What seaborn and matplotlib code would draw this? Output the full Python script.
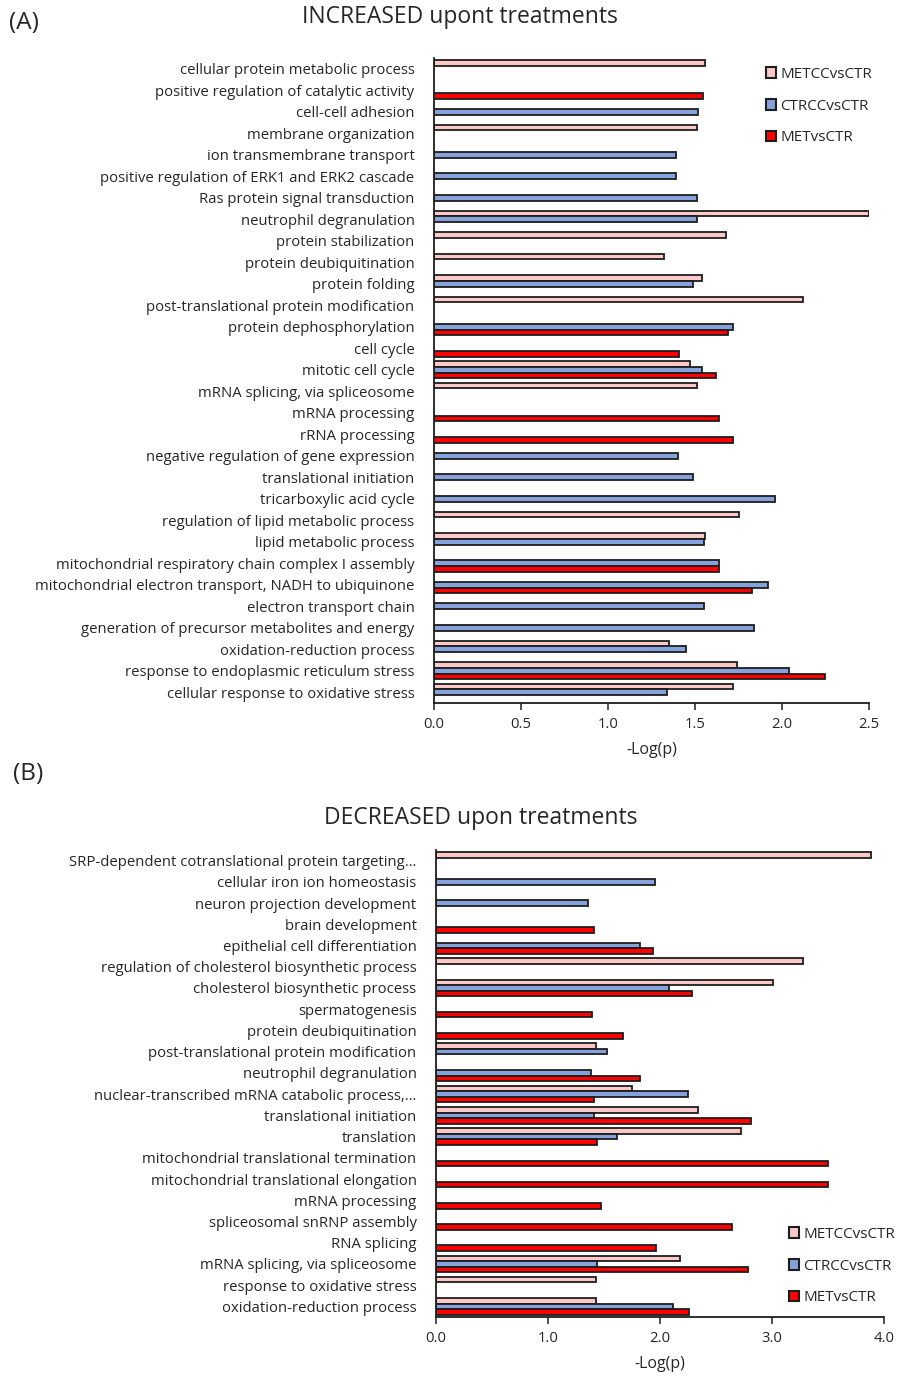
import numpy as np
import pandas as pd
import matplotlib
matplotlib.use("Agg")
import matplotlib.pyplot as plt
from matplotlib.patches import Patch
import seaborn as sns

# ---------------- data ----------------
series_names = ["METCCvsCTR", "CTRCCvsCTR", "METvsCTR"]
series_colors = ["#FCC8C8", "#86A2DA", "#FF0000"]

inc_categories = [
    "cellular protein metabolic process",
    "positive regulation of catalytic activity",
    "cell-cell adhesion",
    "membrane organization",
    "ion transmembrane transport",
    "positive regulation of ERK1 and ERK2 cascade",
    "Ras protein signal transduction",
    "neutrophil degranulation",
    "protein stabilization",
    "protein deubiquitination",
    "protein folding",
    "post-translational protein modification",
    "protein dephosphorylation",
    "cell cycle",
    "mitotic cell cycle",
    "mRNA splicing, via spliceosome",
    "mRNA processing",
    "rRNA processing",
    "negative regulation of gene expression",
    "translational initiation",
    "tricarboxylic acid cycle",
    "regulation of lipid metabolic process",
    "lipid metabolic process",
    "mitochondrial respiratory chain complex I assembly",
    "mitochondrial electron transport, NADH to ubiquinone",
    "electron transport chain",
    "generation of precursor metabolites and energy",
    "oxidation-reduction process",
    "response to endoplasmic reticulum stress",
    "cellular response to oxidative stress",
]
inc_metcc = [1.56, None, None, 1.51, None, None, None, 2.50, 1.68, 1.32,
             1.54, 2.12, None, None, 1.47, 1.51, None, None, None, None,
             None, 1.75, 1.56, None, None, None, None, 1.35, 1.74, 1.72]
inc_ctrcc = [None, None, 1.52, None, 1.39, 1.39, 1.51, 1.51, None, None,
             1.49, None, 1.72, None, 1.54, None, None, None, 1.40, 1.49,
             1.96, None, 1.55, 1.64, 1.92, 1.55, 1.84, 1.45, 2.04, 1.34]
inc_met = [None, 1.545, None, None, None, None, None, None, None, None,
           None, None, 1.69, 1.41, 1.62, None, 1.64, 1.72, None, None,
           None, None, None, 1.64, 1.83, None, None, None, 2.245, None]

dec_categories = [
    "SRP-dependent cotranslational protein targeting…",
    "cellular iron ion homeostasis",
    "neuron projection development",
    "brain development",
    "epithelial cell differentiation",
    "regulation of cholesterol biosynthetic process",
    "cholesterol biosynthetic process",
    "spermatogenesis",
    "protein deubiquitination",
    "post-translational protein modification",
    "neutrophil degranulation",
    "nuclear-transcribed mRNA catabolic process,…",
    "translational initiation",
    "translation",
    "mitochondrial translational termination",
    "mitochondrial translational elongation",
    "mRNA processing",
    "spliceosomal snRNP assembly",
    "RNA splicing",
    "mRNA splicing, via spliceosome",
    "response to oxidative stress",
    "oxidation-reduction process",
]
dec_metcc = [3.88, None, None, None, None, 3.28, 3.01, None, None, 1.43,
             None, 1.75, 2.34, 2.72, None, None, None, None, None, 2.18,
             1.43, 1.43]
dec_ctrcc = [None, 1.955, 1.36, None, 1.82, None, 2.08, None, None, 1.53,
             1.38, 2.25, 1.41, 1.62, None, None, None, None, None, 1.44,
             None, 2.12]
dec_met = [None, None, None, 1.41, 1.935, None, 2.29, 1.39, 1.67, None,
           1.82, 1.41, 2.81, 1.44, 3.50, 3.50, 1.47, 2.64, 1.96, 2.79,
           None, 2.26]

x_ticks_inc = [0.0, 0.5, 1.0, 1.5, 2.0, 2.5]
x_ticks_dec = [0.0, 1.0, 2.0, 3.0, 4.0]


def to_long(categories, metcc, ctrcc, met):
    rows = []
    for name, vals in zip(series_names, [metcc, ctrcc, met]):
        for cat, v in zip(categories, vals):
            if v is not None:
                rows.append({"term": cat, "series": name, "value": v})
    return pd.DataFrame(rows)


# ---------------- style ----------------
sns.set_theme(style="white")
plt.rcParams["font.family"] = ["Open Sans", "DejaVu Sans"]
text_color = "#262626"
edge_color = "#1e1e1e"
palette = dict(zip(series_names, series_colors))

W, H = 898, 1379
fig = plt.figure(figsize=(W / 100, H / 100), dpi=100)


def px_axes(left, top, right, bottom):
    return fig.add_axes([left / W, 1 - bottom / H, (right - left) / W, (bottom - top) / H])


def draw_panel(ax, df, categories, xticks, xmax):
    sns.barplot(data=df, x="value", y="term", hue="series", order=categories,
                hue_order=series_names, palette=palette, orient="h",
                width=0.78, saturation=1, edgecolor=edge_color, linewidth=1.3,
                errorbar=None, legend=False, ax=ax)
    ax.set_xlim(0, xmax)
    ax.set_ylim(len(categories) - 0.5, -0.5)
    ax.set_xticks(xticks)
    ax.set_xticklabels([f"{t:.1f}" for t in xticks])
    ax.set_ylabel("")
    ax.set_xlabel("-Log(p)", fontsize=11.5, color=text_color, labelpad=7)
    for s in ["top", "right"]:
        ax.spines[s].set_visible(False)
    for s in ["left", "bottom"]:
        ax.spines[s].set_color(edge_color)
        ax.spines[s].set_linewidth(1.3)
    ax.tick_params(axis="y", length=0, pad=14, labelsize=10.7, labelcolor=text_color)
    ax.tick_params(axis="x", length=5, width=1.1, direction="out", bottom=True,
                   color=edge_color, pad=5, labelsize=10.7, labelcolor=text_color)


def add_legend(ax, anchor):
    handles = [Patch(facecolor=c, edgecolor=edge_color, linewidth=1.5, label=n)
               for n, c in zip(series_names, series_colors)]
    ax.legend(handles=handles, loc="upper left", bbox_to_anchor=anchor,
              bbox_transform=fig.transFigure, frameon=False, fontsize=11,
              handlelength=0.7, handleheight=0.7, handletextpad=0.25,
              labelspacing=1.1, labelcolor=text_color)


# Panel A: increased terms
ax_a = px_axes(434, 58, 869, 703)
draw_panel(ax_a, to_long(inc_categories, inc_metcc, inc_ctrcc, inc_met),
           inc_categories, x_ticks_inc, 2.5)
add_legend(ax_a, (752 / W, 1 - 53 / H))

# Panel B: decreased terms
ax_b = px_axes(436, 850, 884, 1317)
draw_panel(ax_b, to_long(dec_categories, dec_metcc, dec_ctrcc, dec_met),
           dec_categories, x_ticks_dec, 4.0)
add_legend(ax_b, (775 / W, 1 - 1213 / H))

# titles and panel letters
fig.text(460 / W, 1 - 17 / H, "INCREASED upont treatments", ha="center", va="center",
         fontsize=16.5, color=text_color)
fig.text(481 / W, 1 - 818 / H, "DECREASED upon treatments", ha="center", va="center",
         fontsize=16.5, color=text_color)
fig.text(9 / W, 1 - 23 / H, "(A)", ha="left", va="center", fontsize=17.5, color=text_color)
fig.text(13 / W, 1 - 774 / H, "(B)", ha="left", va="center", fontsize=17.5, color=text_color)

fig.savefig("out.png", dpi=100, facecolor="white")
